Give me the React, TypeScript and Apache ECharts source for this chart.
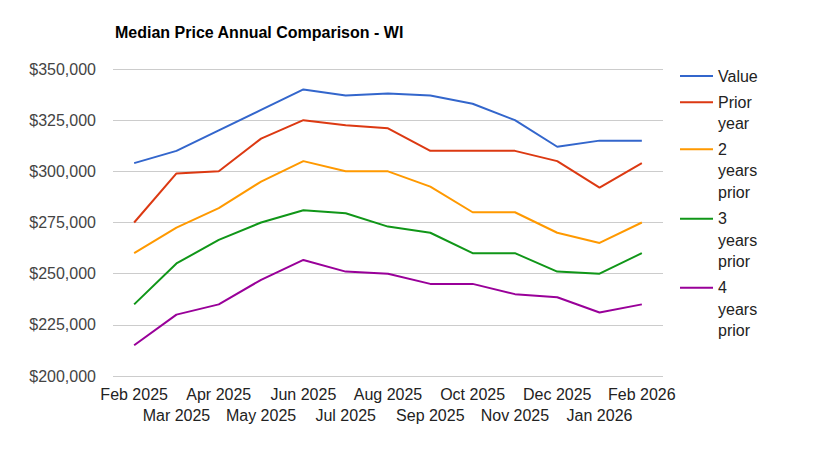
import React, { useEffect, useRef } from "react";
import * as echarts from "echarts";

const months = [
  "Feb 2025", "Mar 2025", "Apr 2025", "May 2025", "Jun 2025", "Jul 2025", "Aug 2025",
  "Sep 2025", "Oct 2025", "Nov 2025", "Dec 2025", "Jan 2026", "Feb 2026",
];
const seriesNames = ["Value", "Prior year", "2 years prior", "3 years prior", "4 years prior"];
const valueNow = [304000, 310000, 320000, 330000, 340000, 337000, 338000, 337000, 333000, 325000, 312000, 315000, 315000];
const prior1 = [275000, 299000, 300000, 316000, 325000, 322500, 321000, 310000, 310000, 310000, 305000, 292000, 304000];
const prior2 = [260000, 272500, 282000, 295000, 305000, 300000, 300000, 292500, 280000, 280000, 270000, 265000, 275000];
const prior3 = [235000, 255000, 266500, 275000, 281000, 279500, 273000, 270000, 260000, 260000, 251000, 250000, 260000];
const prior4 = [215000, 230000, 235000, 247000, 256700, 251000, 250000, 245000, 245000, 240000, 238500, 231000, 235000];
const colors = ["#3366cc", "#dc3912", "#ff9900", "#109618", "#990099"];
const yMin = 200000;
const yMax = 350000;
const yStep = 25000;

const FONT = '"Liberation Sans", Arial, sans-serif';
const LH = 21.5;
const ICON_W = 33;
const legendFirstLine = [76, 102.3, 149.3, 218.7, 287.7];

function iconPath(h: number) {
  const m = LH / 2;
  return (
    "path://M0,0H0.01V0.01Z " +
    `M0,${m - 1}H${ICON_W}V${m + 1}H0Z ` +
    `M0,${h - 0.01}H0.01V${h}Z`
  );
}

export default function App() {
  const ref = useRef<HTMLDivElement>(null);
  useEffect(() => {
    if (!ref.current) return;
    const chart = echarts.init(ref.current, null, { renderer: "svg" });
    const allData = [valueNow, prior1, prior2, prior3, prior4];
    const legends = seriesNames.map((n, i) => {
      const lines = n.split(" ").length;
      const h = LH * lines;
      return {
        orient: "vertical",
        left: 680,
        top: legendFirstLine[i] - LH / 2,
        padding: 0,
        itemWidth: ICON_W,
        itemHeight: h,
        selectedMode: false,
        itemStyle: { borderWidth: 0 },
        data: [{ name: n, icon: iconPath(h) }],
        formatter: (s: string) => s.split(" ").join("\n"),
        textStyle: { fontFamily: FONT, fontSize: 16, color: "#222222", lineHeight: LH },
      };
    });
    chart.setOption({
      animation: false,
      backgroundColor: "#ffffff",
      title: {
        text: "Median Price Annual Comparison - WI",
        left: 115,
        top: 24,
        padding: 0,
        textStyle: { fontFamily: FONT, fontSize: 16, fontWeight: "bold", color: "#000000" },
      },
      legend: legends,
      grid: { left: 113, right: 177, top: 69, bottom: 81, containLabel: false, outerBoundsMode: "none" },
      xAxis: {
        type: "category",
        data: months,
        boundaryGap: true,
        axisLine: { show: false },
        axisTick: { show: false },
        axisLabel: {
          interval: 0,
          margin: 8,
          fontFamily: FONT,
          fontSize: 16,
          lineHeight: 21,
          color: "#222222",
          formatter: (v: string, i: number) => (i % 2 === 1 ? "\n" + v : v),
        },
      },
      yAxis: {
        type: "value",
        min: yMin,
        max: yMax,
        interval: yStep,
        axisLine: { show: false },
        axisTick: { show: false },
        splitLine: { lineStyle: { color: "#cccccc", width: 1 } },
        axisLabel: {
          margin: 17,
          fontFamily: FONT,
          fontSize: 16,
          color: "#444444",
          formatter: (v: number) => "$" + v.toLocaleString("en-US"),
        },
      },
      series: seriesNames.map((n, i) => ({
        name: n,
        type: "line",
        data: allData[i],
        symbol: "none",
        lineStyle: { width: 2, color: colors[i] },
        itemStyle: { color: colors[i] },
      })),
    });
    return () => chart.dispose();
  }, []);
  return (
    <div
      ref={ref}
      style={{ position: "absolute", left: 0, top: 0, width: 840, height: 457 }}
    />
  );
}
